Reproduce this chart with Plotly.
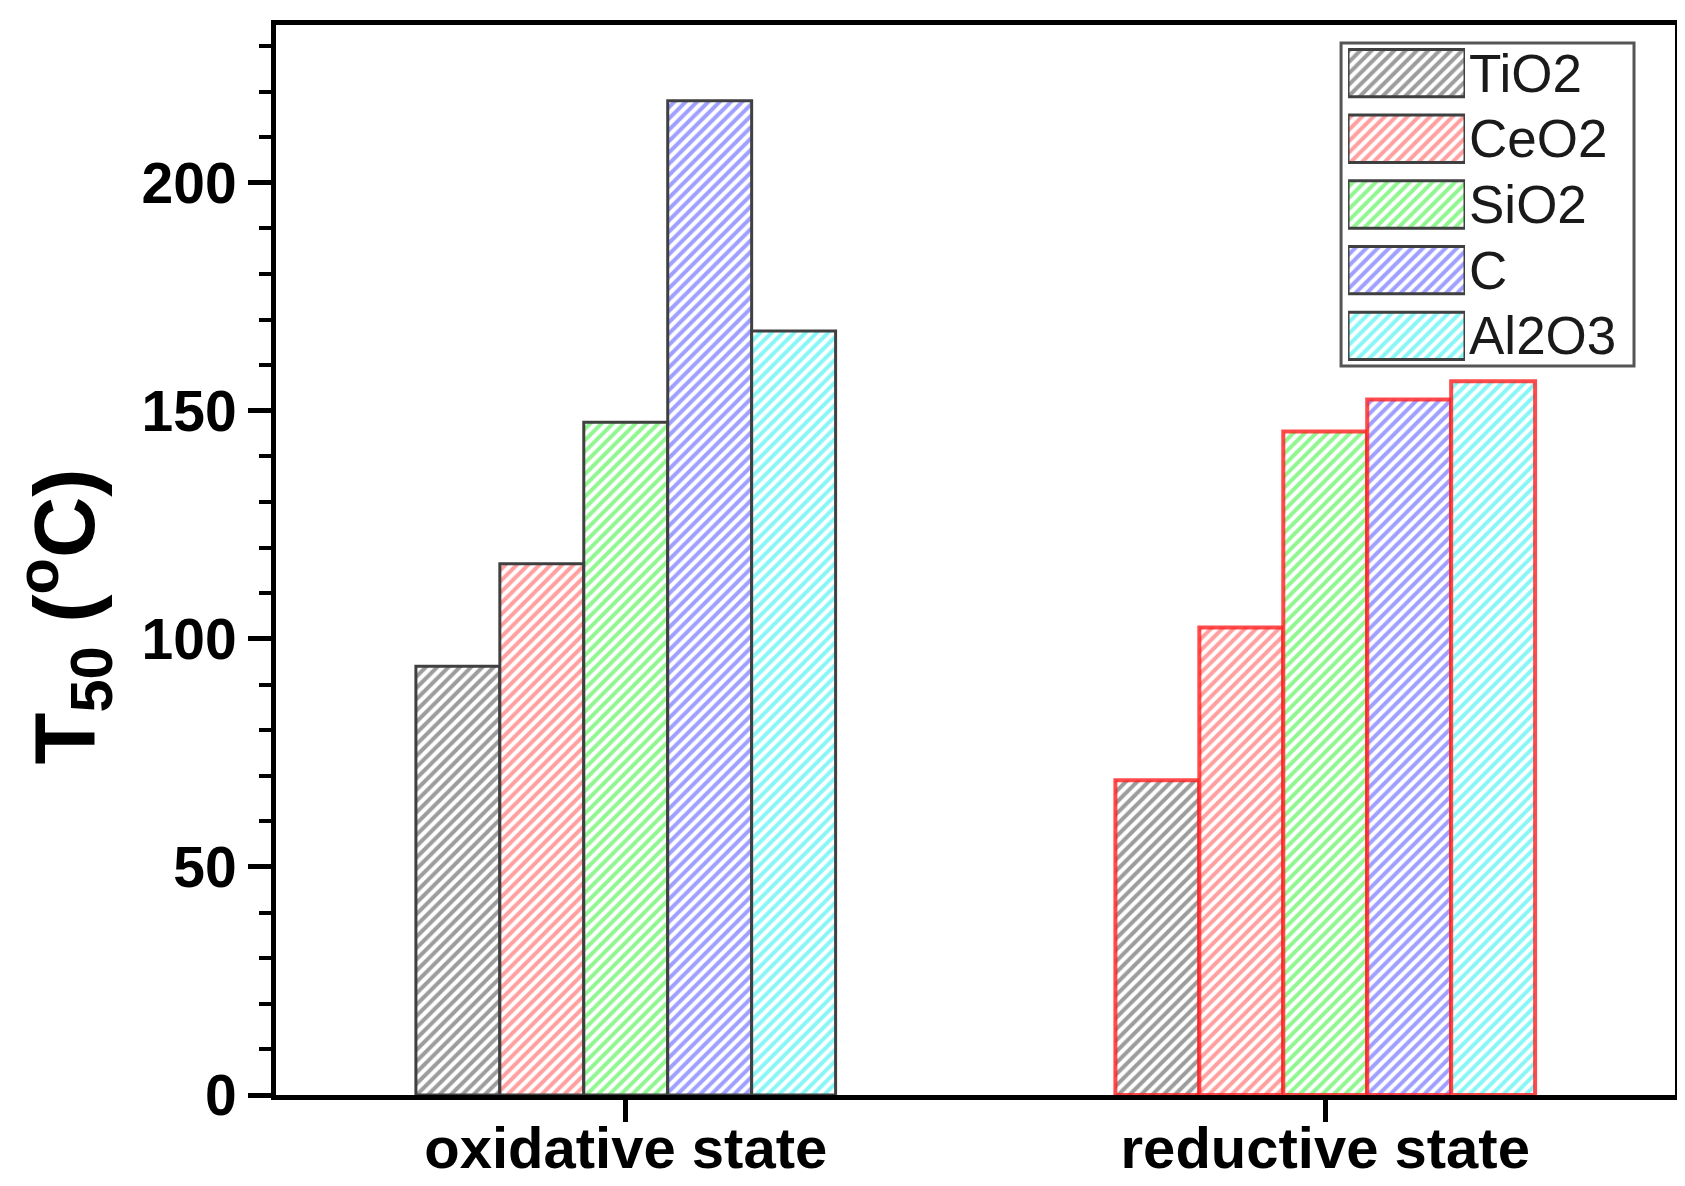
import plotly.graph_objects as go

# ---- data ----
states = ["oxidative state", "reductive state"]
materials = ["TiO2", "CeO2", "SiO2", "C", "Al2O3"]
tio2 = [94, 69]
ceo2 = [116.5, 102.5]
sio2 = [147.5, 145.5]
carbon = [218, 152.5]
al2o3 = [167.5, 156.5]
series = [tio2, ceo2, sio2, carbon, al2o3]
y_ticks = [0, 50, 100, 150, 200]

# ---- styles ----
hatch_colors = ["#3a3a3a", "#ff4040", "#22ee22", "#4040ff", "#11eeee"]
state_edge = ["#404040", "rgba(255,30,30,0.8)"]
state_edge_width = [3, 4]
FONT = "Liberation Sans, Arial, sans-serif"

fig = go.Figure()
for name, vals, col in zip(materials, series, hatch_colors):
    fig.add_trace(go.Bar(
        x=states, y=vals, name=name, showlegend=False,
        marker=dict(
            color="white",
            pattern=dict(shape="/", fgcolor=col, bgcolor="white", size=8, solidity=0.5),
            line=dict(color=state_edge, width=state_edge_width),
        ),
    ))

# legend swatches drawn as a small inset bar chart
legend_value = [1] * len(materials)
for name, col, v in zip(materials, hatch_colors, legend_value):
    fig.add_trace(go.Bar(
        y=[name], x=[v], orientation="h", xaxis="x2", yaxis="y2", showlegend=False,
        hoverinfo="skip", width=0.72,
        marker=dict(
            color="white",
            pattern=dict(shape="/", fgcolor=col, bgcolor="white", size=8, solidity=0.5),
            line=dict(color="#404040", width=3),
        ),
    ))

annotations = [
    dict(text=m, xref="paper", yref="y2", x=0.851, y=m, xanchor="left", yanchor="middle",
         showarrow=False, font=dict(family=FONT, size=53, color="#1a1a1a"))
    for m in materials
]
annotations.append(dict(
    text="T<sub>50</sub> (<sup>o</sup>C)", xref="paper", yref="paper", x=-0.151, y=0.447,
    xanchor="center", yanchor="middle", textangle=-90, showarrow=False,
    font=dict(family=FONT, size=85, color="black", weight="bold"),
))

fig.update_layout(
    width=1685, height=1186,
    margin=dict(l=268, r=18, t=17, b=99, autoexpand=False),
    paper_bgcolor="white", plot_bgcolor="white",
    barmode="group", bargap=0.4, bargroupgap=0,
    font=dict(family=FONT, color="black"),
    xaxis=dict(
        type="category", showgrid=False, zeroline=False,
        showline=True, linecolor="black", linewidth=5, mirror=True,
        ticks="outside", ticklen=22, tickwidth=5, tickcolor="black",
        ticklabelstandoff=-24,
        tickfont=dict(family=FONT, size=58, color="black", weight="bold"),
        domain=[0, 1],
    ),
    yaxis=dict(
        range=[0, 234.6], showgrid=False, zeroline=False,
        tickvals=y_ticks,
        showline=True, linecolor="black", linewidth=5, mirror=True,
        ticks="outside", ticklen=23, tickwidth=5, tickcolor="black",
        tickfont=dict(family=FONT, size=57, color="black", weight="bold"),
        minor=dict(dtick=10, ticks="outside", ticklen=12, tickwidth=4, tickcolor="black"),
        domain=[0, 1],
    ),
    xaxis2=dict(domain=[0.7663, 0.8499], range=[0, 1], anchor="y2",
                visible=False, fixedrange=True),
    yaxis2=dict(domain=[0.6787, 0.9858], anchor="x2", type="category",
                categoryorder="array", categoryarray=materials[::-1],
                visible=False, fixedrange=True),
    shapes=[dict(type="rect", xref="paper", yref="paper",
                 x0=0.7613, x1=0.9707, y0=0.6813, y1=0.9832,
                 line=dict(color="#555555", width=3), fillcolor="rgba(0,0,0,0)", layer="above")],
    annotations=annotations,
)
fig.write_html("out.html")
